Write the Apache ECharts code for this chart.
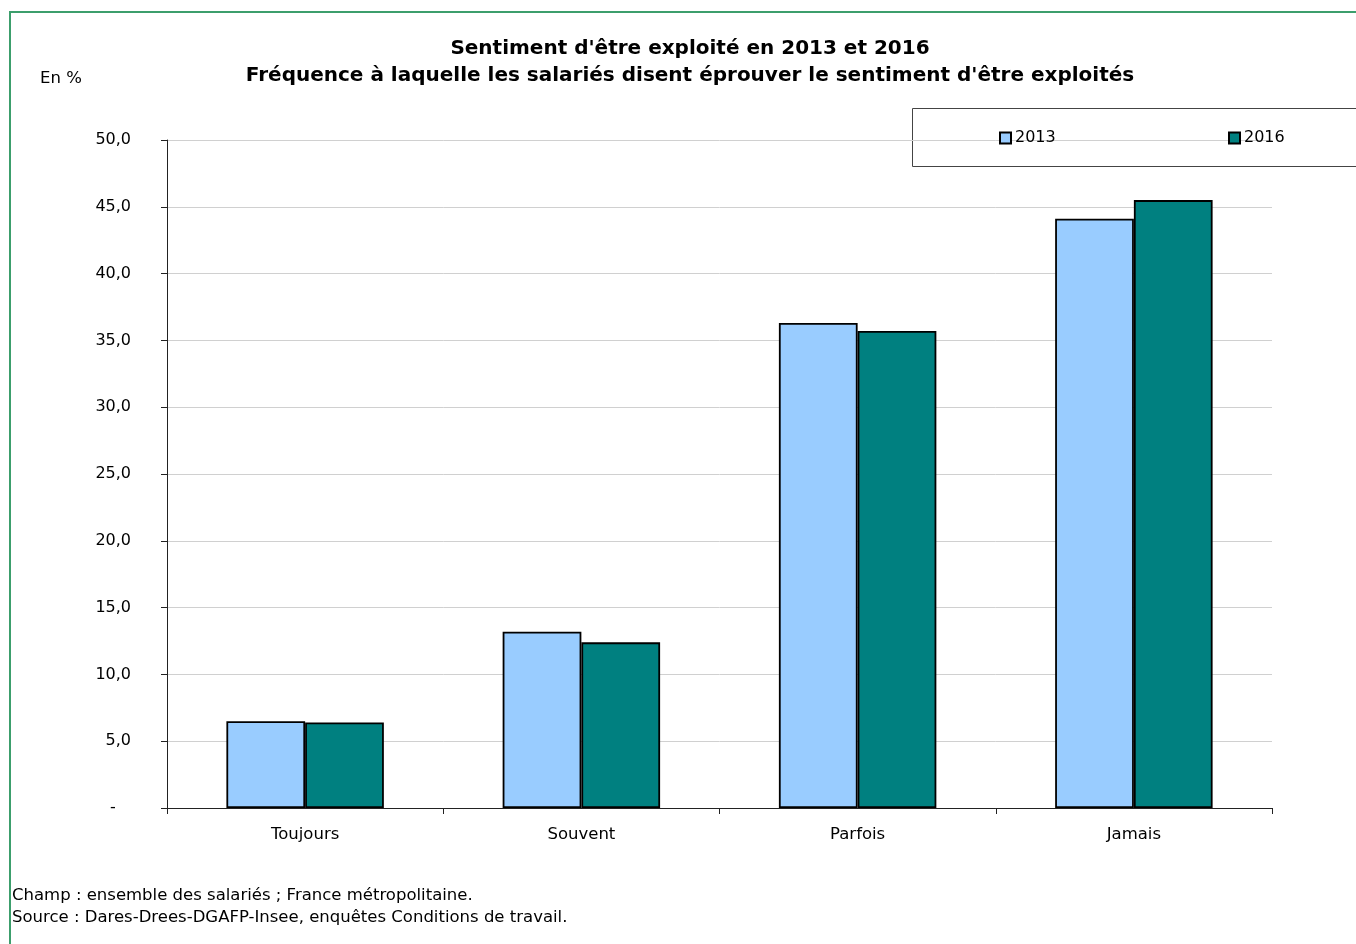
<!DOCTYPE html>
<html>
<head>
<meta charset="utf-8">
<script src="https://cdn.jsdelivr.net/npm/echarts@6/dist/echarts.min.js"></script>
<style>
html,body{margin:0;padding:0;background:#fff;}
#chart{width:1356px;height:944px;}
</style>
</head>
<body>
<div id="chart"></div>
<script>
const categories = ['Toujours', 'Souvent', 'Parfois', 'Jamais'];
const values2013 = [6.5, 13.2, 36.3, 44.1];
const values2016 = [6.4, 12.4, 35.7, 45.5];
const seriesNames = ['2013', '2016'];
const titleLines = ["Sentiment d'être exploité en 2013 et 2016", "Fréquence à laquelle les salariés disent éprouver le sentiment d'être exploités"];
const unitLabel = 'En %';
const notes = ['Champ : ensemble des salariés ; France métropolitaine.', 'Source : Dares-Drees-DGAFP-Insee, enquêtes Conditions de travail.'];

const FONT = 'DejaVu Sans, Verdana, sans-serif';
const chart = echarts.init(document.getElementById('chart'), null, {renderer: 'canvas'});

chart.setOption({
  animation: false,
  backgroundColor: '#ffffff',
  textStyle: {fontFamily: FONT},
  title: {
    text: titleLines.join('\n'),
    left: 690,
    top: 35,
    textAlign: 'center',
    padding: 0,
    textStyle: {fontFamily: FONT, fontSize: 20, fontWeight: 'bold', color: '#000', lineHeight: 27}
  },
  legend: [
    {data: [seriesNames[0]], left: 999, top: 130, icon: 'rect', itemWidth: 11, itemHeight: 11, itemGap: 4, padding: 0,
     textStyle: {fontFamily: FONT, fontSize: 16, color: '#000', padding: [0,0,0,-1]}},
    {data: [seriesNames[1]], left: 1228, top: 130, icon: 'rect', itemWidth: 11, itemHeight: 11, itemGap: 4, padding: 0,
     textStyle: {fontFamily: FONT, fontSize: 16, color: '#000', padding: [0,0,0,-1]}}
  ],
  grid: {left: 167, right: 84, top: 140, bottom: 136, containLabel: false},
  xAxis: {
    type: 'category',
    data: categories,
    axisLine: {lineStyle: {color: '#222', width: 1}},
    axisTick: {show: true, alignWithLabel: false, length: 6, lineStyle: {color: '#222'}},
    axisLabel: {fontFamily: FONT, fontSize: 16.5, color: '#000', margin: 18}
  },
  yAxis: {
    type: 'value',
    min: 0, max: 50, interval: 5,
    axisLine: {show: true, lineStyle: {color: '#222', width: 1}},
    axisTick: {show: true, length: 6, lineStyle: {color: '#222'}},
    splitLine: {show: true, lineStyle: {color: '#d0d0d0', width: 1}},
    axisLabel: {
      fontFamily: FONT, fontSize: 16, color: '#000', margin: 36,
      formatter: function (v) { return v === 0 ? '-   ' : v.toFixed(1).replace('.', ','); }
    }
  },
  series: [
    {name: seriesNames[0], type: 'bar', data: values2013, barGap: '0%', barCategoryGap: '43%',
     itemStyle: {color: '#99ccff', borderColor: '#000', borderWidth: 1.8}},
    {name: seriesNames[1], type: 'bar', data: values2016, barGap: '0%', barCategoryGap: '43%',
     itemStyle: {color: '#008080', borderColor: '#000', borderWidth: 1.8}}
  ],
  graphic: [
    {type: 'rect', z: -1, silent: true,
     shape: {x: 10, y: 12, width: 1400, height: 1000},
     style: {fill: 'none', stroke: '#3c9e6c', lineWidth: 2}},
    {type: 'rect', z: 0, silent: true,
     shape: {x: 912.5, y: 108.5, width: 500, height: 58},
     style: {fill: '#fff', stroke: '#444', lineWidth: 1}},
    {type: 'text', x: 40, y: 79, style: {text: unitLabel, font: '16.5px ' + FONT, fill: '#000', textVerticalAlign: 'middle'}},
    {type: 'text', x: 12, y: 896, style: {text: notes[0], font: '16.5px ' + FONT, fill: '#000', textVerticalAlign: 'middle'}},
    {type: 'text', x: 12, y: 918, style: {text: notes[1], font: '16.5px ' + FONT, fill: '#000', textVerticalAlign: 'middle'}}
  ]
});
</script>
</body>
</html>
